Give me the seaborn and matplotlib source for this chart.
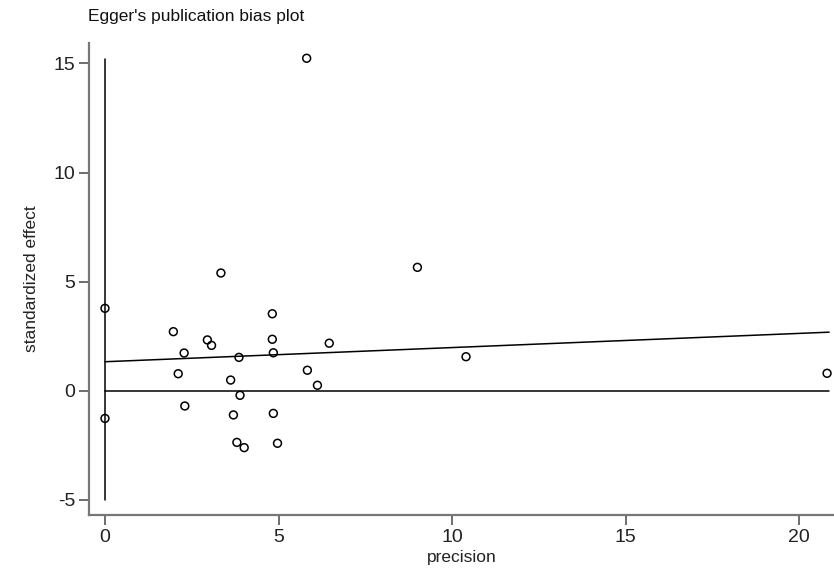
import pandas as pd
import numpy as np
import matplotlib
matplotlib.use("Agg")
import matplotlib.pyplot as plt
import seaborn as sns

precision = [0, 0, 1.97, 2.95, 3.07, 2.28, 2.11, 2.30, 4.82, 4.82, 4.85,
             3.86, 3.62, 3.89, 3.70, 4.85, 6.46, 5.83, 6.12, 3.80, 4.01,
             4.97, 3.34, 9.00, 10.40, 20.80, 5.81]
std_effect = [3.77, -1.28, 2.70, 2.32, 2.07, 1.72, 0.77, -0.71, 3.52, 2.35, 1.73,
              1.52, 0.48, -0.22, -1.12, -1.05, 2.17, 0.93, 0.24, -2.38, -2.62,
              -2.42, 5.39, 5.65, 1.55, 0.79, 15.24]

# egger regression line
reg_intercept = 1.32
reg_slope = 0.065
yaxis_line = [-5.0, 15.2]

xticks = [0, 5, 10, 15, 20]
yticks = [-5, 0, 5, 10, 15]

data = pd.DataFrame({"precision": precision, "standardized effect": std_effect})

sns.set_style("ticks")
plt.rcParams['font.family'] = ['Liberation Sans', 'DejaVu Sans']
plt.rcParams['axes.unicode_minus'] = False

fig = plt.figure(figsize=(8.34, 5.70), dpi=100)
ax = fig.add_axes([89 / 834, 55 / 570, 745 / 834, 472 / 570])

xmax = data["precision"].max()
xs = np.array([0, xmax + 0.06])
ax.plot(xs, reg_intercept + reg_slope * xs, color="black", lw=1.1, zorder=2)
ax.plot(xs, [0, 0], color="black", lw=1.1, zorder=2)
ax.plot([0, 0], yaxis_line, color="black", lw=1.1, zorder=2)

sns.scatterplot(data=data, x="precision", y="standardized effect", ax=ax,
                marker="o", s=32, facecolor="none", edgecolor="black",
                linewidth=1.1, zorder=3)

ax.set_xlim(-0.46, 21.0)
ax.set_ylim(-5.71, 15.94)
ax.set_xticks(xticks)
ax.set_yticks(yticks)
ax.tick_params(axis="both", direction="out", length=7, width=1.2,
               color="#555555", labelsize=14, labelcolor="#222222", pad=3)
for side in ["top", "right"]:
    ax.spines[side].set_visible(False)
for side in ["left", "bottom"]:
    ax.spines[side].set_color("#777777")
    ax.spines[side].set_linewidth(1.6)

narrow = ['Liberation Sans Narrow', 'Liberation Sans', 'DejaVu Sans']
ax.set_xlabel("precision", family=narrow, fontsize=12.5, color="#222222", labelpad=3)
ax.set_ylabel("standardized effect", family=narrow, fontsize=12.5, color="#222222", labelpad=10)
fig.text(88 / 834, 1 - 17 / 570, "Egger's publication bias plot", family=narrow,
         fontsize=12.5, color="#111111", va="center", ha="left")

fig.savefig("out.png", dpi=100)
